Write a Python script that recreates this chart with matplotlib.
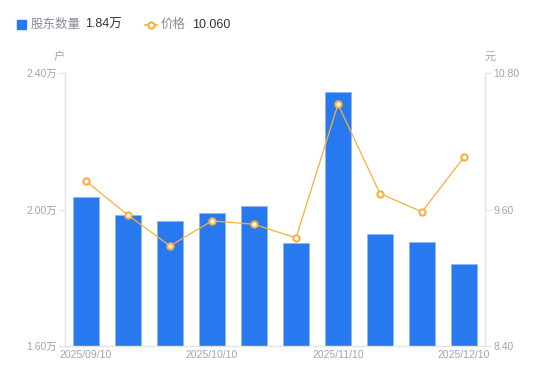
import matplotlib
matplotlib.use("Agg")
import matplotlib.pyplot as plt
from matplotlib.lines import Line2D
import numpy as np

plt.rcParams['font.family'] = ['Liberation Sans', 'Noto Sans CJK SC', 'DejaVu Sans']

dates = ["2025/09/10", "2025/09/20", "2025/09/30", "2025/10/10", "2025/10/20",
         "2025/10/31", "2025/11/10", "2025/11/20", "2025/11/30", "2025/12/10"]
holders = [2.036, 1.983, 1.967, 1.991, 2.011, 1.902, 2.345, 1.927, 1.905, 1.840]  # 万户
price = [9.85, 9.55, 9.28, 9.50, 9.47, 9.35, 10.525, 9.74, 9.58, 10.06]
shown_ticks = ["2025/09/10", "2025/10/10", "2025/11/10", "2025/12/10"]
left_ticks = [1.60, 2.00, 2.40]
right_ticks = [8.40, 9.60, 10.80]

BLUE = "#2878F0"
ORANGE = "#F8B03C"
GRAY = "#A3A3B2"
AXIS = "#E3E3E8"
CJK = ['Noto Sans CJK SC', 'DejaVu Sans']

fig = plt.figure(figsize=(5.5, 3.81), dpi=100)
ax = fig.add_axes([65/550, 35/381, 420/550, 273/381])
ax2 = ax.twinx()

x = np.arange(len(dates))
ax.bar(x, [h - left_ticks[0] for h in holders], bottom=left_ticks[0], width=0.6,
       color=BLUE, edgecolor="#8FB6F5", linewidth=0.6, zorder=2)
ax.set_xlim(-0.5, len(dates) - 0.5)
ax.set_ylim(left_ticks[0], left_ticks[-1])
ax.set_yticks(left_ticks)
ax.set_yticklabels([f"{v:.2f}万" for v in left_ticks])
ax.set_xticks([dates.index(d) for d in shown_ticks])
ax.set_xticklabels(shown_ticks)

ax2.plot(x, price, color=ORANGE, linewidth=0.9, marker="o", markersize=4.5,
         markerfacecolor="white", markeredgecolor=ORANGE, markeredgewidth=1.5, zorder=3)
ax2.set_ylim(right_ticks[0], right_ticks[-1])
ax2.set_yticks(right_ticks)
ax2.set_yticklabels([f"{v:.2f}" for v in right_ticks])

for a in (ax, ax2):
    for s in a.spines.values():
        s.set_visible(False)
ax.spines['left'].set_visible(True)
ax.spines['bottom'].set_visible(True)
ax2.spines['right'].set_visible(True)
for s in (ax.spines['left'], ax.spines['bottom'], ax2.spines['right']):
    s.set_color(AXIS)
    s.set_linewidth(1)

ax.tick_params(axis='y', colors=AXIS, labelcolor=GRAY, labelsize=7.5, length=4, width=1, pad=2)
ax.tick_params(axis='x', length=0, labelcolor=GRAY, labelsize=7.5, pad=3)
ax2.tick_params(axis='y', colors=AXIS, labelcolor=GRAY, labelsize=7.5, length=4, width=1, pad=2)

fig.text(59/550, 1 - 57/381, "户", color=GRAY, fontsize=8, ha="center", va="center", family=CJK)
fig.text(490/550, 1 - 57/381, "元", color=GRAY, fontsize=8, ha="center", va="center", family=CJK)

# legend
fig.patches.append(plt.Rectangle((17/550, 1 - 29/381), 9/550, 9/381,
                                 transform=fig.transFigure, color=BLUE, figure=fig))
fig.text(31/550, 1 - 24.5/381, "股东数量", color="#8A8A99", fontsize=9, va="center", family=CJK)
fig.text(85/550, 1 - 24.5/381, "1.84万", color="#333333", fontsize=9, va="center")
fig.lines.append(Line2D([145/550, 157/550], [1 - 24.5/381] * 2, transform=fig.transFigure,
                        color=ORANGE, linewidth=1.2, figure=fig))
fig.lines.append(Line2D([151/550], [1 - 24.5/381], transform=fig.transFigure, color=ORANGE,
                        marker="o", markersize=4.5, markerfacecolor="white",
                        markeredgecolor=ORANGE, markeredgewidth=1.5, figure=fig))
fig.text(161/550, 1 - 24.5/381, "价格", color="#8A8A99", fontsize=9, va="center", family=CJK)
fig.text(192/550, 1 - 24.5/381, "10.060", color="#333333", fontsize=9, va="center")

fig.savefig("out.png", dpi=100)
